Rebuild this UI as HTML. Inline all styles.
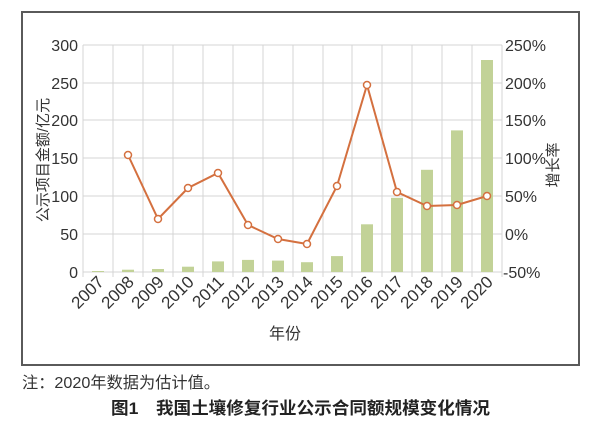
<!DOCTYPE html>
<html><head><meta charset="utf-8"><style>
body{margin:0;background:#fff;}
</style></head><body>
<svg width="600" height="435" xmlns="http://www.w3.org/2000/svg" font-family="Liberation Sans, Noto Sans CJK SC, sans-serif">
<rect x="22" y="12" width="557" height="353" fill="#fff" stroke="#5a5a5a" stroke-width="2"/>
<g stroke="#d4d4d4" stroke-width="1">
<line x1="83" y1="45" x2="502" y2="45"/><line x1="83" y1="83" x2="502" y2="83"/><line x1="83" y1="120" x2="502" y2="120"/><line x1="83" y1="158" x2="502" y2="158"/><line x1="83" y1="196" x2="502" y2="196"/><line x1="83" y1="234" x2="502" y2="234"/><line x1="83" y1="272" x2="502" y2="272"/>
<line x1="83" y1="45" x2="83" y2="277"/><line x1="113" y1="45" x2="113" y2="277"/><line x1="143" y1="45" x2="143" y2="277"/><line x1="173" y1="45" x2="173" y2="277"/><line x1="203" y1="45" x2="203" y2="277"/><line x1="233" y1="45" x2="233" y2="277"/><line x1="263" y1="45" x2="263" y2="277"/><line x1="293" y1="45" x2="293" y2="277"/><line x1="323" y1="45" x2="323" y2="277"/><line x1="352" y1="45" x2="352" y2="277"/><line x1="382" y1="45" x2="382" y2="277"/><line x1="412" y1="45" x2="412" y2="277"/><line x1="442" y1="45" x2="442" y2="277"/><line x1="472" y1="45" x2="472" y2="277"/><line x1="502" y1="45" x2="502" y2="277"/>
</g>
<g fill="#c2d297">
<rect x="92" y="271" width="12" height="1"/>
<rect x="122" y="269.7" width="12" height="2.3"/>
<rect x="152" y="269" width="12" height="3"/>
<rect x="182" y="266.7" width="12" height="5.3"/>
<rect x="212" y="261.4" width="12" height="10.6"/>
<rect x="242" y="259.9" width="12" height="12.1"/>
<rect x="272" y="260.6" width="12" height="11.4"/>
<rect x="301" y="262.2" width="12" height="9.8"/>
<rect x="331" y="256.1" width="12" height="15.9"/>
<rect x="361" y="224.3" width="12" height="47.7"/>
<rect x="391" y="197.8" width="12" height="74.2"/>
<rect x="421" y="169.8" width="12" height="102.2"/>
<rect x="451" y="130.4" width="12" height="141.6"/>
<rect x="481" y="60" width="12" height="212"/>
</g>
<polyline fill="none" stroke="#d4703f" stroke-width="2" points="128,155 158,219 188,188 218,173 248,225 278,239 307,244 337,186 367,85 397,192 427,206 457,205 487,196"/>
<g fill="#fff" stroke="#d4703f" stroke-width="1.5">
<circle cx="128" cy="155" r="3.5"/><circle cx="158" cy="219" r="3.5"/><circle cx="188" cy="188" r="3.5"/><circle cx="218" cy="173" r="3.5"/><circle cx="248" cy="225" r="3.5"/><circle cx="278" cy="239" r="3.5"/><circle cx="307" cy="244" r="3.5"/><circle cx="337" cy="186" r="3.5"/><circle cx="367" cy="85" r="3.5"/><circle cx="397" cy="192" r="3.5"/><circle cx="427" cy="206" r="3.5"/><circle cx="457" cy="205" r="3.5"/><circle cx="487" cy="196" r="3.5"/>
</g>
<g font-size="16" fill="#333" text-anchor="end">
<text x="78" y="51">300</text><text x="78" y="89">250</text><text x="78" y="126">200</text><text x="78" y="164">150</text><text x="78" y="202">100</text><text x="78" y="240">50</text><text x="78" y="278">0</text>
</g>
<g font-size="16" fill="#333">
<text x="505" y="51">250%</text><text x="505" y="89">200%</text><text x="505" y="126">150%</text><text x="505" y="164">100%</text><text x="505" y="202">50%</text><text x="505" y="240">0%</text><text x="503" y="278">-50%</text>
</g>
<g font-size="17" fill="#333" text-anchor="end">
<text transform="translate(105,283) rotate(-45)">2007</text>
<text transform="translate(135,283) rotate(-45)">2008</text>
<text transform="translate(165,283) rotate(-45)">2009</text>
<text transform="translate(195,283) rotate(-45)">2010</text>
<text transform="translate(225,283) rotate(-45)">2011</text>
<text transform="translate(255,283) rotate(-45)">2012</text>
<text transform="translate(285,283) rotate(-45)">2013</text>
<text transform="translate(314,283) rotate(-45)">2014</text>
<text transform="translate(344,283) rotate(-45)">2015</text>
<text transform="translate(374,283) rotate(-45)">2016</text>
<text transform="translate(404,283) rotate(-45)">2017</text>
<text transform="translate(434,283) rotate(-45)">2018</text>
<text transform="translate(464,283) rotate(-45)">2019</text>
<text transform="translate(494,283) rotate(-45)">2020</text>
</g>
<text x="285" y="339" font-size="16" fill="#333" text-anchor="middle">年份</text>
<text transform="translate(48,160) rotate(-90)" font-size="15" fill="#333" text-anchor="middle">公示项目金额/亿元</text>
<text transform="translate(558,165) rotate(-90)" font-size="15" fill="#333" text-anchor="middle">增长率</text>
<text x="22" y="388" font-size="16" fill="#333" textLength="198" lengthAdjust="spacingAndGlyphs">注：2020年数据为估计值。</text>
<text x="111" y="414" font-size="17" font-weight="bold" fill="#222" textLength="379" lengthAdjust="spacingAndGlyphs">图1　我国土壤修复行业公示合同额规模变化情况</text>
</svg>
</body></html>
